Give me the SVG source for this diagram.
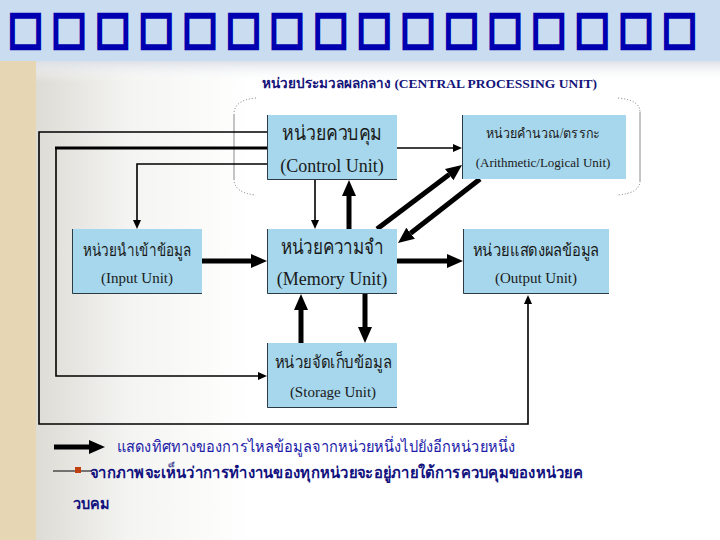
<svg xmlns="http://www.w3.org/2000/svg" width="720" height="540" viewBox="0 0 720 540">
<defs>
  <linearGradient id="bg" x1="0" y1="0" x2="1" y2="0">
    <stop offset="0" stop-color="#d4d2ca"/>
    <stop offset="0.18" stop-color="#f4f4f2"/>
    <stop offset="0.35" stop-color="#ffffff"/>
    <stop offset="1" stop-color="#ffffff"/>
  </linearGradient>
  <linearGradient id="topshade" x1="0" y1="0" x2="0" y2="1">
    <stop offset="0" stop-color="#d9dee6"/>
    <stop offset="1" stop-color="#ffffff" stop-opacity="0"/>
  </linearGradient>
  <marker id="big" markerUnits="userSpaceOnUse" markerWidth="20" markerHeight="20" viewBox="0 -10 20 20" refX="0" refY="0" orient="auto">
    <path d="M0,-7 L16,0 L0,7 z" fill="#000"/>
  </marker>
  <marker id="small" markerUnits="userSpaceOnUse" markerWidth="12" markerHeight="12" viewBox="0 -6 12 12" refX="0" refY="0" orient="auto">
    <path d="M0,-4 L9,0 L0,4 z" fill="#000"/>
  </marker>
</defs>
<style>
  .box { fill: #a6d7ec; }
  .edge { fill: none; stroke: #2c3a44; stroke-width: 1; }
  .thin { fill: none; stroke: #000; stroke-width: 1.6; }
  .thick { fill: none; stroke: #000; stroke-width: 5; }
  .mid { fill: none; stroke: #000; stroke-width: 3; }
  .th { font-family: "Liberation Serif", "DejaVu Serif", "Noto Sans", serif; fill: #1a1a1a; text-anchor: middle; }
  .en { font-family: "Liberation Serif", "DejaVu Serif", serif; fill: #1a1a1a; text-anchor: middle; }
  .cpu { font-family: "Liberation Serif", "DejaVu Serif", serif; font-weight: bold; fill: #14147a; font-size: 13.5px; }
  .note { font-family: "Liberation Serif", "DejaVu Serif", "Noto Sans", serif; fill: #1c1ca8; font-size: 16px; }
  .noteb { font-family: "Liberation Serif", "DejaVu Serif", "Noto Sans", serif; fill: #12127e; font-size: 16px; font-weight: bold; }
  .title { font-family: "DejaVu Sans", sans-serif; fill: none; stroke: #0000b0; stroke-width: 2.8; font-size: 37px; }
  .cpubr { fill: none; stroke: #8a8a8a; stroke-width: 1; }
  .dot { fill: none; stroke: #777; stroke-width: 1; stroke-dasharray: 1 2; }
</style>

<!-- background -->
<rect x="0" y="0" width="720" height="540" fill="url(#bg)"/>
<rect x="0" y="60" width="36" height="480" fill="#e6d6b4"/>
<rect x="36" y="60" width="684" height="22" fill="url(#topshade)"/>
<rect x="0" y="0" width="720" height="61" fill="#c9dcf0"/>
<g id="title">
  <text class="title" transform="translate(0,43) scale(1,1.2)" x="8 51.6 95.2 138.8 182.4 226 269.6 313.2 356.8 400.4 444 487.6 531.2 574.8 618.4 662" y="0">□□□□□□□□□□□□□□□□</text>
</g>

<!-- CPU bracket container -->
<g id="cpu">
  <text class="cpu" x="262" y="88">หน่วยประมวลผลกลาง (CENTRAL PROCESSING UNIT)</text>
  <path class="cpubr" d="M234,114 L234,179"/>
  <path class="dot" d="M256,98 Q234,100 234,114 M234,179 Q234,193 256,195"/>
  <path class="cpubr" d="M640,112 L640,181"/>
  <path class="dot" d="M618,98 Q640,100 640,112 M640,181 Q640,193 618,195"/>
</g>

<!-- connectors -->
<g id="connectors">
  <path class="thin" d="M267,132 L39,132 L39,424 L528,424 L528,304" marker-end="url(#small)"/>
  <path class="thin" d="M56,148 L56,376 L258,376" marker-end="url(#small)"/>
  <path class="mid" d="M267,148 L55,148"/>
  <path class="thin" d="M267,164 L137,164 L137,220" marker-end="url(#small)"/>
  <path class="thin" d="M315,180 L315,220" marker-end="url(#small)"/>
  <path class="thin" d="M397,148 L453,148" marker-end="url(#small)"/>
  <path class="thick" d="M349,229 L349,196" marker-end="url(#big)"/>
  <path class="thick" d="M377,229 L449.2,174.6" marker-end="url(#big)"/>
  <path class="thick" d="M480,179 L410.6,233.2" marker-end="url(#big)"/>
  <path class="thick" d="M202,261 L251,261" marker-end="url(#big)"/>
  <path class="thick" d="M397,261 L447,261" marker-end="url(#big)"/>
  <path class="thick" d="M301,343 L301,310" marker-end="url(#big)"/>
  <path class="thick" d="M365,294 L365,327" marker-end="url(#big)"/>
</g>

<!-- nodes -->
<g id="control">
  <rect class="box" x="267" y="115" width="130" height="65"/>
  <path class="edge" d="M267.5,115 L267.5,179.5 L397,179.5"/>
  <text class="th" x="332" y="140" font-size="20" textLength="100" lengthAdjust="spacingAndGlyphs">หน่วยควบคุม</text>
  <text class="en" x="332" y="172" font-size="18">(Control Unit)</text>
</g>
<g id="alu">
  <rect class="box" x="462" y="115" width="164" height="64"/>
  <path class="edge" d="M462.5,115 L462.5,179"/>
  <text class="th" x="543" y="138" font-size="14" textLength="114" lengthAdjust="spacingAndGlyphs">หน่วยคำนวณ/ตรรกะ</text>
  <text class="en" x="543" y="167" font-size="13">(Arithmetic/Logical Unit)</text>
</g>
<g id="input">
  <rect class="box" x="72" y="229" width="130" height="65"/>
  <path class="edge" d="M72.5,229 L72.5,293.5 L202,293.5"/>
  <text class="th" x="137" y="256" font-size="17" textLength="108" lengthAdjust="spacingAndGlyphs">หน่วยนำเข้าข้อมูล</text>
  <text class="en" x="137" y="283" font-size="15">(Input Unit)</text>
</g>
<g id="memory">
  <rect class="box" x="267" y="229" width="130" height="65"/>
  <path class="edge" d="M267.5,229 L267.5,293.5 L397,293.5"/>
  <text class="th" x="332" y="254" font-size="20" textLength="103" lengthAdjust="spacingAndGlyphs">หน่วยความจำ</text>
  <text class="en" x="332" y="285" font-size="18">(Memory Unit)</text>
</g>
<g id="output">
  <rect class="box" x="463" y="229" width="146" height="65"/>
  <path class="edge" d="M463.5,229 L463.5,293.5 L609,293.5"/>
  <text class="th" x="536" y="256" font-size="17" textLength="126" lengthAdjust="spacingAndGlyphs">หน่วยแสดงผลข้อมูล</text>
  <text class="en" x="536" y="283" font-size="15">(Output Unit)</text>
</g>
<g id="storage">
  <rect class="box" x="267" y="343" width="130" height="65"/>
  <path class="edge" d="M267.5,343 L267.5,407.5 L397,407.5"/>
  <text class="th" x="333" y="368" font-size="17" textLength="117" lengthAdjust="spacingAndGlyphs">หน่วยจัดเก็บข้อมูล</text>
  <text class="en" x="333" y="397" font-size="15">(Storage Unit)</text>
</g>

<!-- legend / notes -->
<g id="legend">
  <path class="thick" d="M54,447 L89,447" marker-end="url(#big)"/>
  <text class="note" x="117" y="452" textLength="398" lengthAdjust="spacingAndGlyphs">แสดงทิศทางของการไหลข้อมูลจากหน่วยหนึ่งไปยังอีกหน่วยหนึ่ง</text>
  <path d="M53,471 L92,471" stroke="#000" stroke-width="1"/>
  <rect x="75" y="467" width="6" height="6" fill="#c0400f"/>
  <text class="noteb" x="90" y="478" textLength="493" lengthAdjust="spacingAndGlyphs">จากภาพจะเห็นว่าการทำงานของทุกหน่วยจะอยู่ภายใต้การควบคุมของหน่วยค</text>
  <text class="noteb" x="73" y="509" textLength="37" lengthAdjust="spacingAndGlyphs">วบคม</text>
</g>
</svg>
